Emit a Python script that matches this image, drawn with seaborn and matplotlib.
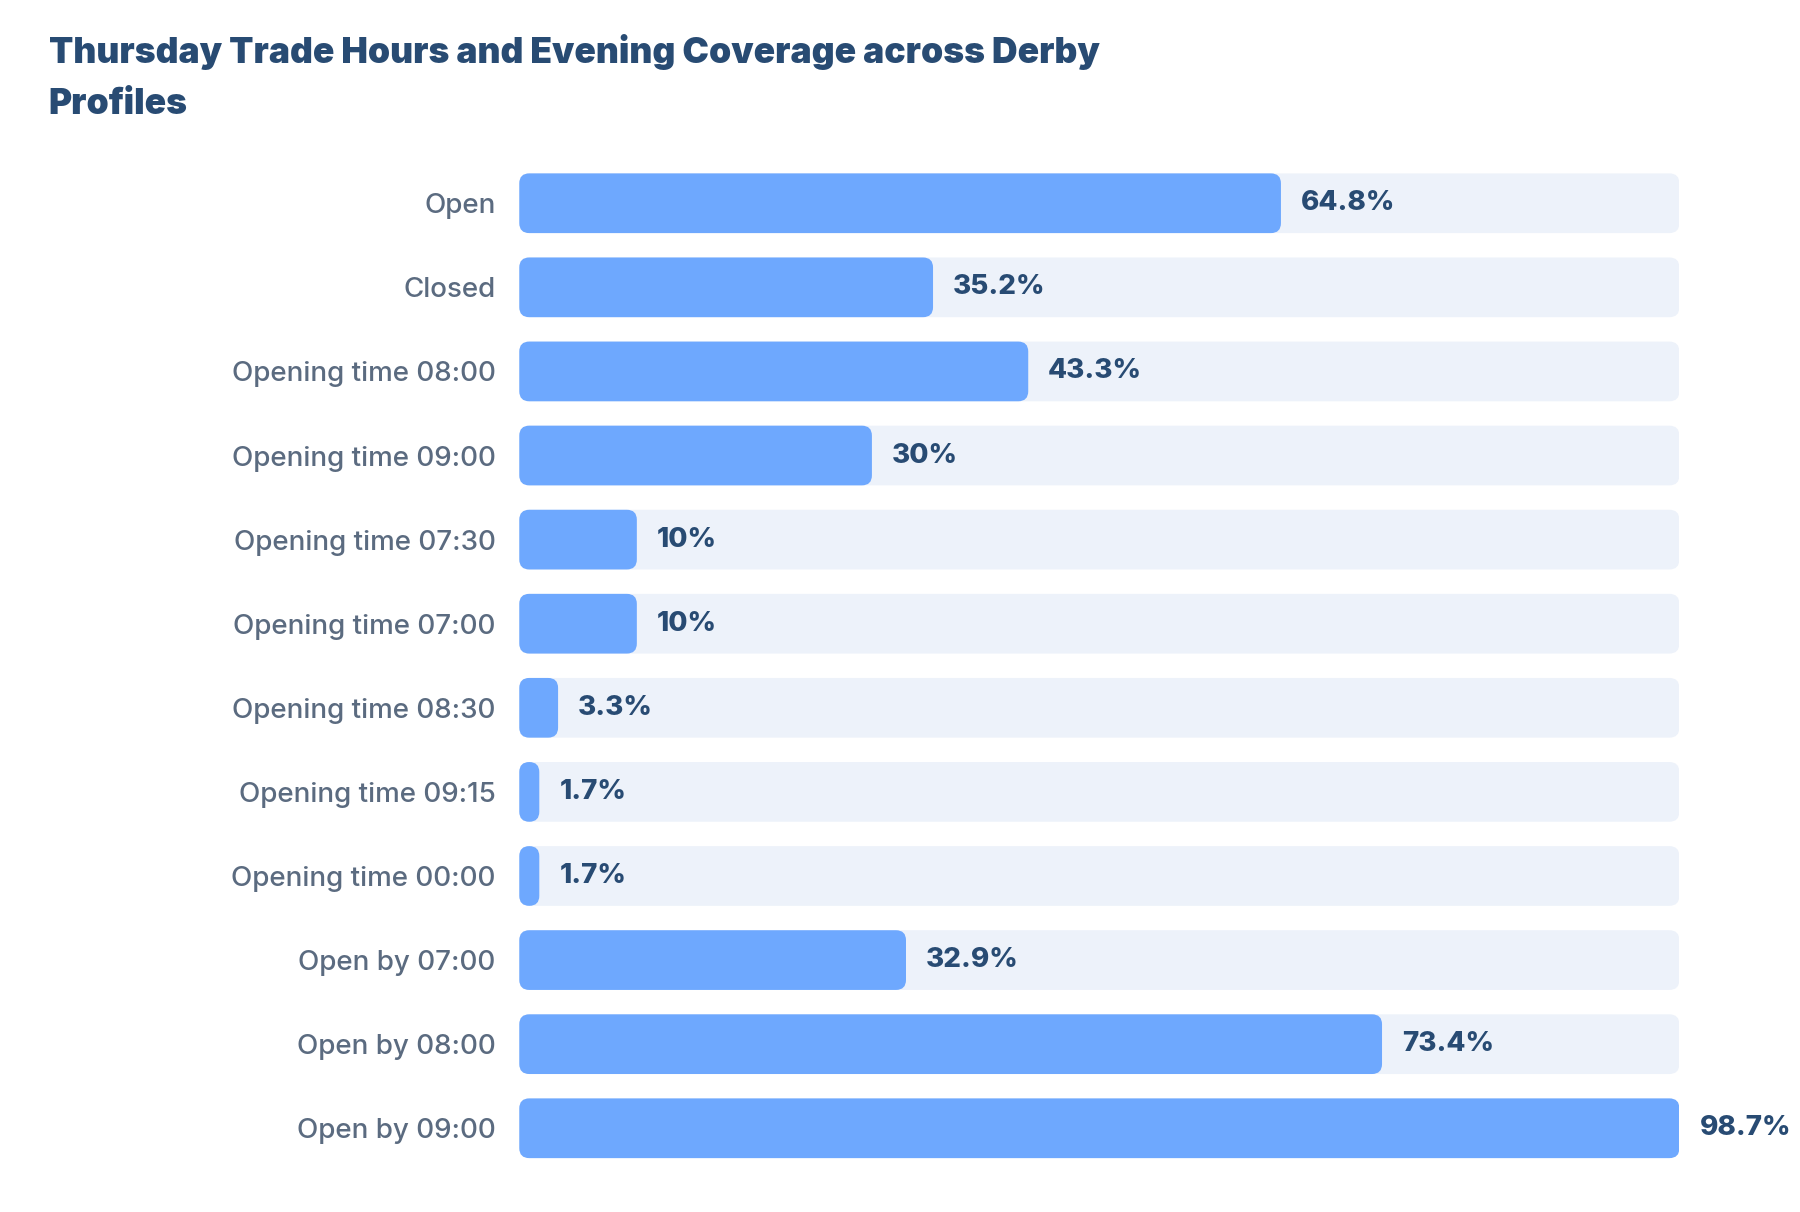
import matplotlib
matplotlib.use("Agg")
import matplotlib.pyplot as plt
import seaborn as sns
import pandas as pd
from matplotlib.patches import FancyBboxPatch

# Chart data
categories = [
    "Open", "Closed",
    "Opening time 08:00", "Opening time 09:00", "Opening time 07:30",
    "Opening time 07:00", "Opening time 08:30", "Opening time 09:15",
    "Opening time 00:00",
    "Open by 07:00", "Open by 08:00", "Open by 09:00",
]
shares = [64.8, 35.2, 43.3, 30.0, 10.0, 10.0, 3.3, 1.7, 1.7, 32.9, 73.4, 98.7]
value_labels = ["64.8%", "35.2%", "43.3%", "30%", "10%", "10%", "3.3%",
                "1.7%", "1.7%", "32.9%", "73.4%", "98.7%"]

title = "Thursday Trade Hours and Evening Coverage across Derby\nProfiles"

BAR = "#6ea8fe"
TRACK = "#edf2fa"
NAVY = "#284b73"
GREY = "#5b6b80"

sns.set_theme(style="white")
plt.rcParams["font.family"] = ["Inter", "DejaVu Sans"]

df = pd.DataFrame({"category": categories, "share": shares})
track_max = max(shares)
df["track"] = track_max

fig = plt.figure(figsize=(18, 12.12), dpi=100)
ax = fig.add_axes([0.2885, 0.0344, 0.9330 - 0.2885, 0.8326])

sns.barplot(data=df, y="category", x="track", color=TRACK, width=0.71,
            orient="h", ax=ax, saturation=1)
sns.barplot(data=df, y="category", x="share", color=BAR, width=0.71,
            orient="h", ax=ax, saturation=1)

ax.set_xlim(0, track_max)
ax.set_ylim(len(categories) - 0.5, -0.5)

# swap the square bars for rounded ones
fig.canvas.draw()
px_per_x = ax.transData.transform((1, 0))[0] - ax.transData.transform((0, 0))[0]
px_per_y = abs(ax.transData.transform((0, 1))[1] - ax.transData.transform((0, 0))[1])
aspect = px_per_x / px_per_y
radius_px = 10
min_w = 20 / px_per_x
for p in list(ax.patches):
    x0, y0 = p.get_x(), p.get_y()
    w, h = p.get_width(), p.get_height()
    w = max(w, min_w)
    r = min(radius_px / px_per_x, w / 2)
    fb = FancyBboxPatch((x0, y0), w, h,
                        boxstyle=f"round,pad=0,rounding_size={r}",
                        mutation_aspect=aspect,
                        facecolor=p.get_facecolor(), edgecolor="none",
                        zorder=p.get_zorder())
    p.remove()
    ax.add_patch(fb)

# value labels
for i, (v, lab) in enumerate(zip(shares, value_labels)):
    w = max(v, min_w)
    ax.text(w + 20 / px_per_x, i, lab, va="center", ha="left",
            fontsize=20, fontweight=800, color=NAVY, clip_on=False)

ax.set_xlabel("")
ax.set_ylabel("")
ax.set_xticks([])
ax.tick_params(axis="y", length=0, pad=17, labelsize=20, labelcolor=GREY)
for lbl in ax.get_yticklabels():
    lbl.set_fontweight("medium")
sns.despine(ax=ax, left=True, bottom=True)

fig.text(0.027, 0.972, title, ha="left", va="top", fontsize=25.5,
         fontweight=900, color=NAVY, linespacing=1.7)

fig.savefig("out.png", dpi=100, facecolor="white")
